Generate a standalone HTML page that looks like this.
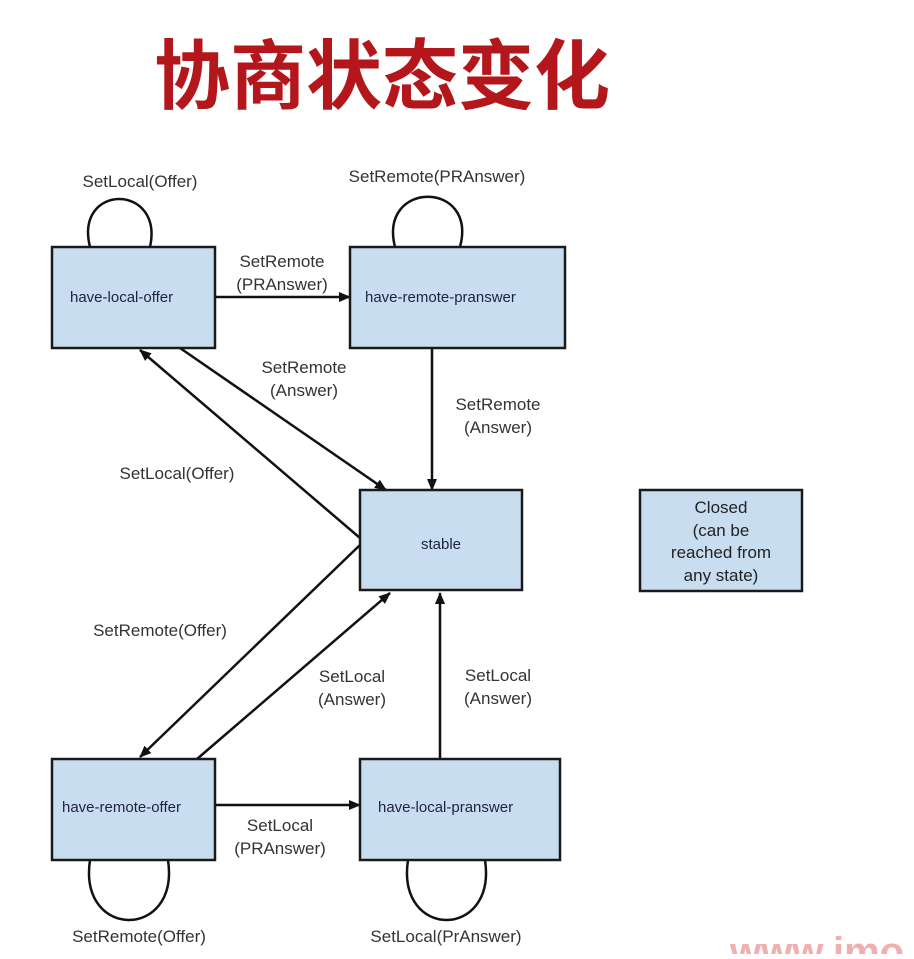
<!DOCTYPE html>
<html><head><meta charset="utf-8"><style>
body{margin:0;background:#fff;}
svg text{font-family:"Liberation Sans",Arial,sans-serif;}
</style></head><body>
<svg width="914" height="954" viewBox="0 0 914 954" xmlns="http://www.w3.org/2000/svg">
<defs><marker id="a" markerWidth="12" markerHeight="10" refX="11" refY="5" orient="auto" markerUnits="userSpaceOnUse"><path d="M0,0 L12,5 L0,10 z" fill="#111"/></marker></defs>
<text x="382" y="103" text-anchor="middle" font-weight="bold" font-size="76" fill="#b3161b" style="font-family:'Liberation Sans','Noto Sans CJK SC',sans-serif">协商状态变化</text>
<g fill="none" stroke="#111" stroke-width="2.5">
<path d="M90,247 C74,183 164,183 150,247"/>
<path d="M395,247 C378,180 478,180 460,247"/>
<path d="M90,860 C78,940 180,940 168,860"/>
<path d="M408,860 C396,940 497,940 485,860"/>
<line x1="215" y1="297" x2="350" y2="297" marker-end="url(#a)"/>
<line x1="432" y1="348" x2="432" y2="490" marker-end="url(#a)"/>
<line x1="180" y1="348" x2="386" y2="490" marker-end="url(#a)"/>
<line x1="360" y1="538" x2="140" y2="350" marker-end="url(#a)"/>
<line x1="360" y1="545" x2="140" y2="757" marker-end="url(#a)"/>
<line x1="197" y1="759" x2="390" y2="593" marker-end="url(#a)"/>
<line x1="440" y1="759" x2="440" y2="593" marker-end="url(#a)"/>
<line x1="215" y1="805" x2="360" y2="805" marker-end="url(#a)"/>
</g>
<g fill="#c9ddf1" stroke="#1a1a1a" stroke-width="2.5">
<rect x="52" y="247" width="163" height="101"/>
<rect x="350" y="247" width="215" height="101"/>
<rect x="360" y="490" width="162" height="100"/>
<rect x="640" y="490" width="162" height="101"/>
<rect x="52" y="759" width="163" height="101"/>
<rect x="360" y="759" width="200" height="101"/>
</g>
<g font-size="15" fill="#1d2240">
<text x="70" y="302">have-local-offer</text>
<text x="365" y="302">have-remote-pranswer</text>
<text x="441" y="549" text-anchor="middle">stable</text>
<text x="62" y="812">have-remote-offer</text>
<text x="378" y="812">have-local-pranswer</text>
</g>
<g font-size="17" fill="#222" text-anchor="middle">
<text x="721" y="513">Closed</text>
<text x="721" y="536">(can be</text>
<text x="721" y="558">reached from</text>
<text x="721" y="581">any state)</text>
</g>
<g font-size="17" fill="#333" text-anchor="middle">
<text x="140" y="187">SetLocal(Offer)</text>
<text x="437" y="182">SetRemote(PRAnswer)</text>
<text x="282" y="267">SetRemote</text>
<text x="282" y="290">(PRAnswer)</text>
<text x="304" y="373">SetRemote</text>
<text x="304" y="396">(Answer)</text>
<text x="498" y="410">SetRemote</text>
<text x="498" y="433">(Answer)</text>
<text x="177" y="479">SetLocal(Offer)</text>
<text x="160" y="636">SetRemote(Offer)</text>
<text x="352" y="682">SetLocal</text>
<text x="352" y="705">(Answer)</text>
<text x="498" y="681">SetLocal</text>
<text x="498" y="704">(Answer)</text>
<text x="280" y="831">SetLocal</text>
<text x="280" y="854">(PRAnswer)</text>
<text x="139" y="942">SetRemote(Offer)</text>
<text x="446" y="942">SetLocal(PrAnswer)</text>
</g>
<text x="730" y="965" font-size="40" font-weight="bold" fill="#f0b0b0">www.imo</text>
</svg>
</body></html>
